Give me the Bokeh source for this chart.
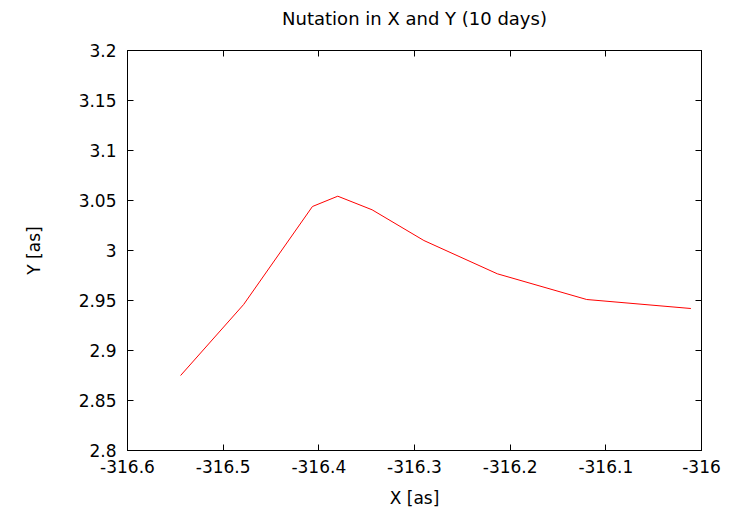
from bokeh.plotting import figure
from bokeh.models import Range1d, LinearAxis, FixedTicker, CustomJSTickFormatter
from bokeh.embed import file_html
from bokeh.resources import INLINE

# Data (arcseconds)
x_vals = [-316.5445, -316.4786, -316.4067, -316.3802, -316.3443, -316.2902, -316.2134, -316.1200, -316.0111]
y_vals = [2.875, 2.946, 3.044, 3.0543, 3.0407, 3.010, 2.9767, 2.951, 2.942]

x_ticks = [-316.6, -316.5, -316.4, -316.3, -316.2, -316.1, -316.0]
y_ticks = [2.8, 2.85, 2.9, 2.95, 3.0, 3.05, 3.1, 3.15, 3.2]

title_text = "Nutation in X and Y (10 days)"
x_label = "X [as]"
y_label = "Y [as]"

FONT = "DejaVu Sans"
FS = "17px"

p = figure(width=728, height=510,
           x_range=Range1d(-316.6, -316.0), y_range=Range1d(2.8, 3.2),
           output_backend="svg", toolbar_location=None,
           min_border_left=127, min_border_right=27,
           min_border_top=50, min_border_bottom=60,
           x_axis_location=None, y_axis_location=None)

p.outline_line_color = "black"
p.outline_line_alpha = 1.0
p.xgrid.visible = False
p.ygrid.visible = False
p.background_fill_color = "white"
p.border_fill_color = "white"

fmt_code = "return parseFloat(tick.toFixed(6)).toString();"

def style_axis(ax, ticks, show_labels):
    ax.ticker = FixedTicker(ticks=ticks)
    ax.major_tick_in = 6
    ax.major_tick_out = 0
    ax.minor_tick_in = 0
    ax.minor_tick_out = 0
    ax.axis_line_color = "black"
    ax.major_tick_line_color = "black"
    ax.major_label_text_font = FONT
    ax.major_label_text_font_size = FS
    ax.major_label_text_color = "black"
    ax.axis_label_text_font = FONT
    ax.axis_label_text_font_size = FS
    ax.axis_label_text_font_style = "normal"
    ax.axis_label_text_color = "black"
    if show_labels:
        ax.formatter = CustomJSTickFormatter(code=fmt_code)
    else:
        ax.formatter = CustomJSTickFormatter(code="return '';")
        ax.major_label_standoff = 0

xb = LinearAxis(axis_label=x_label)
style_axis(xb, x_ticks, True)
xb.major_label_standoff = 9
xb.axis_label_standoff = 12
p.add_layout(xb, "below")

yl = LinearAxis(axis_label=y_label)
style_axis(yl, y_ticks, True)
yl.major_label_standoff = 11
yl.axis_label_standoff = 32
p.add_layout(yl, "left")

# Top mirror axis carries the chart title as its label
xt = LinearAxis(axis_label=title_text)
style_axis(xt, x_ticks, False)
xt.axis_label_text_font_size = "18px"
xt.axis_label_standoff = 22
p.add_layout(xt, "above")

yr = LinearAxis()
style_axis(yr, y_ticks, False)
p.add_layout(yr, "right")

p.line(x_vals, y_vals, line_color="red", line_width=1)

open("out.html", "w").write(file_html(p, INLINE))
